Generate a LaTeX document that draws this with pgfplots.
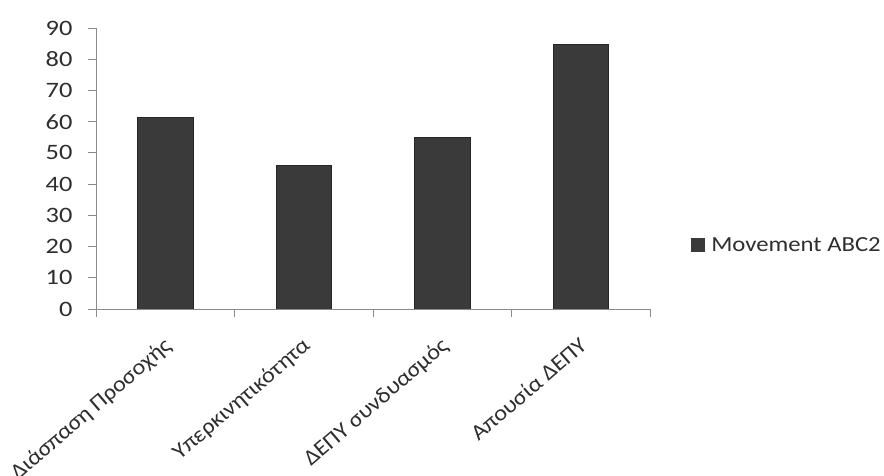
\documentclass[border=0pt]{standalone}
\usepackage{pgfplots}
\pgfplotsset{compat=1.18}
\usepackage{fontspec}
\setmainfont{Carlito}
\newfontfamily\tickfont[FakeStretch=1.2]{Carlito}
\newfontfamily\legfont[FakeStretch=1.15]{Carlito}
\newfontfamily\labfont[FakeStretch=1.1]{Carlito}
\definecolor{barc}{HTML}{3A3A3A}
\definecolor{txt}{HTML}{2E2E2E}
\definecolor{axc}{HTML}{8A8A8A}
\begin{document}
\begin{tikzpicture}[x=1pt,y=1pt]
\useasboundingbox (0,0) rectangle (884,476);
\begin{axis}[
 at={(96pt,167pt)}, anchor=south west, scale only axis,
 width=554pt, height=281pt,
 xmin=-0.5, xmax=3.5, ymin=0, ymax=90,
 axis x line*=bottom, axis y line*=left,
 axis line style={axc, line width=0.8pt},
 /pgf/number format/assume math mode=true,
 ytick={0,10,...,90},
 xtick={0,1,2,3},
 xticklabels={Διάσπαση Προσοχής, Υπερκινητικότητα, ΔΕΠΥ συνδυασμός, Απουσία ΔΕΠΥ},
 minor xtick={-0.5,0.5,1.5,2.5,3.5},
 major x tick style={draw=none},
 minor x tick style={draw=axc, line width=0.8pt},
 y tick style={draw=axc, line width=0.8pt},
 tick align=outside, major tick length=8pt, minor tick length=8pt,
 yticklabel style={font=\fontsize{22}{22}\selectfont\tickfont, text=txt, xshift=-12pt},
 xticklabel style={font=\fontsize{22}{22}\selectfont\labfont, text=txt, rotate=40.7, anchor=north east, xshift=-11pt, yshift=-9pt},
 legend style={at={(1.068,0.228)}, anchor=west, draw=none, fill=none, font=\fontsize{21.5}{21.5}\selectfont\legfont, text=txt, /tikz/every odd column/.append style={column sep=5pt}},
 legend image code/.code={\fill[barc] (0pt,-6.5pt) rectangle (13pt,6.5pt);},
]
\addplot[ybar, bar width=0.4, fill=barc, draw=black!85] coordinates {(0,61.3) (1,46.1) (2,55) (3,84.7)};
\addlegendentry{Movement ABC2}
\end{axis}
\end{tikzpicture}
\end{document}
